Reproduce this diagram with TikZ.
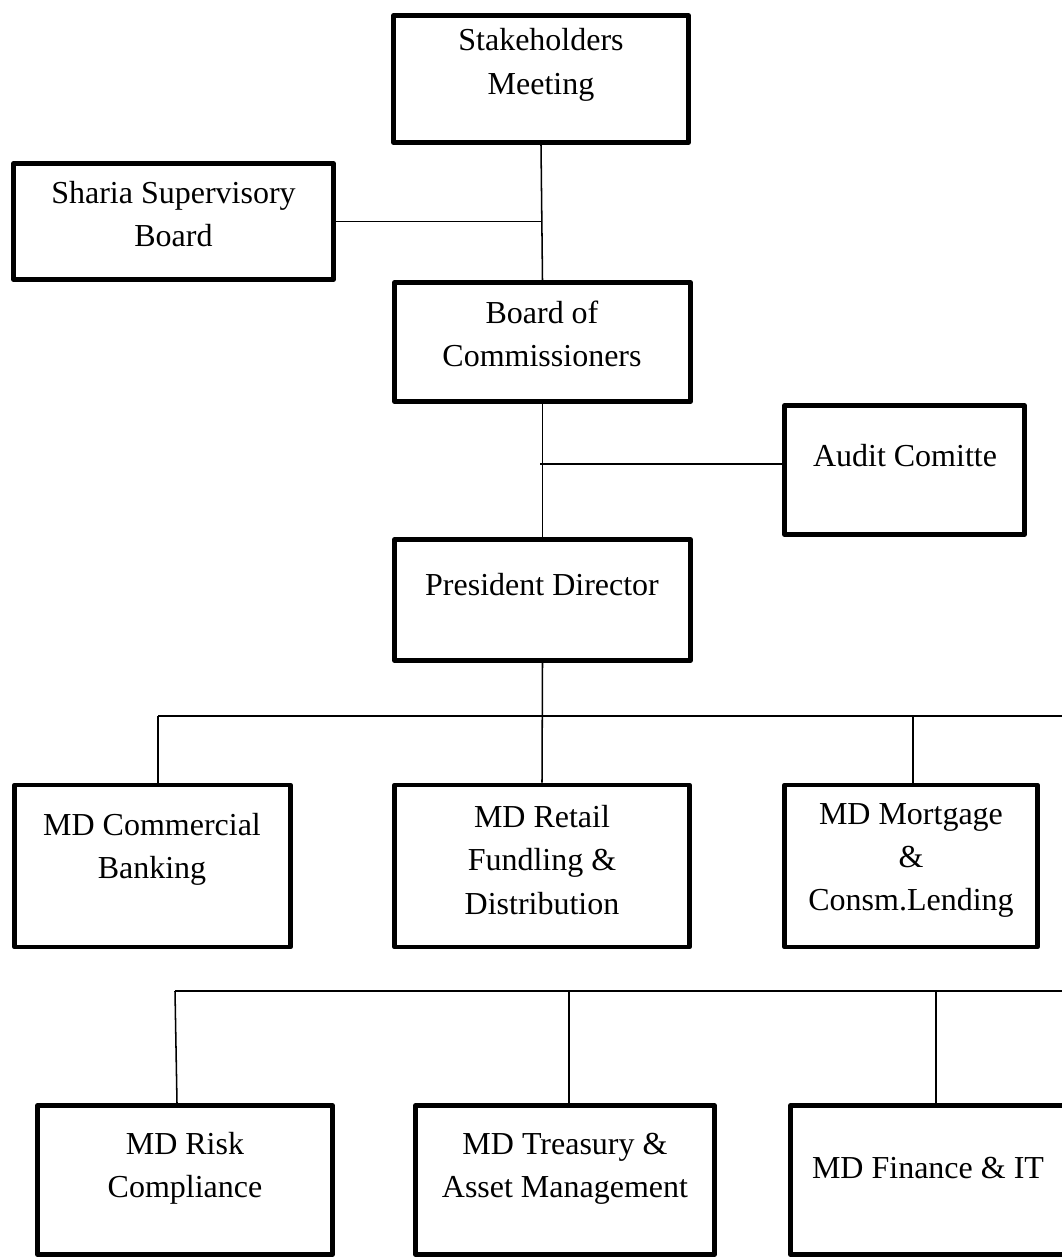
\documentclass[tikz,border=0pt]{standalone}
\usepackage{fontspec}
\setmainfont{Liberation Serif}
\begin{document}
\begin{tikzpicture}[x=0.75pt,y=-0.75pt,
  box/.style n args={2}{draw, line width=3.4pt, line join=round, inner sep=0pt,
    minimum width=#1*0.75pt, minimum height=#2*0.75pt},
  lbl/.style={align=center, inner sep=0pt, font=\fontsize{24}{32.5}\selectfont},
  link/.style={line width=1.15pt}]
\useasboundingbox (0,0) rectangle (1062,1258);
\clip (0,0) rectangle (1062,1258);

% boxes (outer edges measured, minus half the border on each side)
\node[box={295}{127}] (sm)  at (541,79) {};
\node[box={320}{116}] (ssb) at (173.5,221.5) {};
\node[box={296}{119}] (boc) at (542.5,342) {};
\node[box={240}{129}] (ac)  at (904.5,470) {};
\node[box={296}{121}] (pd)  at (542.5,600) {};
\node[box={276}{162}] (mcb) at (152.5,866) {};
\node[box={295}{162}] (mrf) at (542,866) {};
\node[box={253}{162}] (mml) at (911,866) {};
\node[box={295}{149}] (mrc) at (185,1180) {};
\node[box={299}{149}] (mta) at (565,1180) {};
\node[box={275}{149}] (mfi) at (928,1180) {};

% texts
\node[lbl] (tsm)  at (541,65)      {Stakeholders\\Meeting};
\node[lbl] (tssb) at (173.5,214)   {Sharia Supervisory\\Board};
\node[lbl] (tboc) at (542,334)     {Board of\\Commissioners};
\node[lbl] (tac)  at (905,456)     {Audit Comitte};
\node[lbl] (tpd)  at (542,585)     {President Director};
\node[lbl] (tmcb) at (152,849.5)   {MD Commercial\\Banking};
\node[lbl] (tmrf) at (542,860)     {MD Retail\\Fundling \&\\Distribution};
\node[lbl] (tmml) at (911,860.5)   {MD Mortgage\\\&\\Consm.Lending};
\node[lbl] (tmrc) at (185,1168.5)  {MD Risk\\Compliance};
\node[lbl] (tmta) at (565,1168.5)  {MD Treasury \&\\Asset Management};
\node[lbl] (tmfi) at (928,1168)    {MD Finance \& IT};

% junctions and bus lines
\coordinate (jac)  at (540,464);
\coordinate (busA) at (158,716);
\coordinate (busAr) at (1070,716);
\coordinate (busB) at (175,991);
\coordinate (busBr) at (1070,991);

% upper chain
\draw[link] (sm.south) -- (boc.north);
\draw[link] (ssb.east) -- (ssb.east -| sm.south);
\draw[link] (boc.south) -- (pd.north);
\draw[link] (ac.west |- jac) -- (jac);

% first row of directors
\draw[link] (busA) -- (busAr);
\draw[link] (pd.south) -- (mrf.north);
\draw[link] (busA) -- (busA |- mcb.north);
\draw[link] (mml.north -| 913,0) -- (913,716);

% second row of directors
\draw[link] (busB) -- (busBr);
\draw[link] (busB) -- (177,0 |- mrc.north);
\draw[link] (mta.north -| 569,0) -- (569,991);
\draw[link] (mfi.north -| 936,0) -- (936,991);
\end{tikzpicture}
\end{document}
